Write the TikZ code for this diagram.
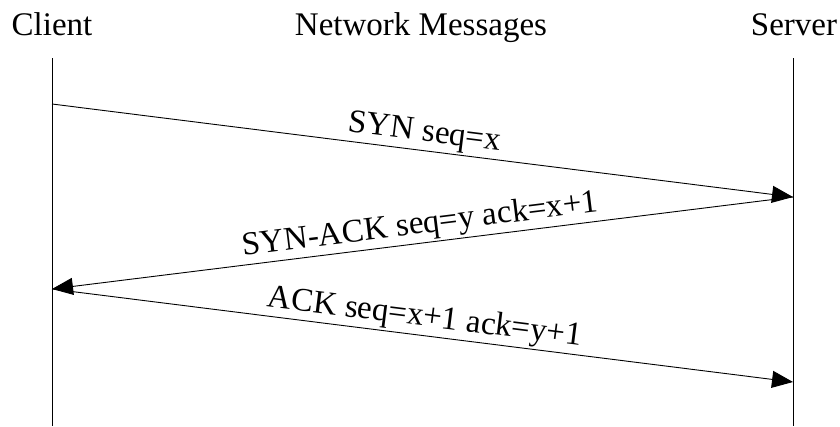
\documentclass[tikz,border=0pt]{standalone}
\usepackage{fontspec}
\setmainfont{Liberation Serif}
\usetikzlibrary{arrows.meta}
\begin{document}
\begin{tikzpicture}[x=1pt,y=-1pt,
  lifeline/.style={line width=0.9pt},
  msg/.style={line width=0.9pt,-{Triangle[length=21pt,width=17pt]}},
  msglabel/.style={midway,above,sloped,inner sep=2pt},
  title/.style={anchor=base,inner sep=0pt},
  every node/.style={font=\fontsize{33}{40}\selectfont}]
  \useasboundingbox (0,0) rectangle (840,426);
  % column headings
  \node[title] (client) at (52,35) {Client};
  \node[title] (net) at (421,35) {Network Messages};
  \node[title] (server) at (794,35) {Server};
  % lifelines
  \coordinate (ctop) at (52,58);
  \coordinate (cbot) at (52,426);
  \coordinate (stop) at (793,58);
  \coordinate (sbot) at (793,426);
  \draw[lifeline] (ctop) -- (cbot);
  \draw[lifeline] (stop) -- (sbot);
  % message end points
  \coordinate (c1) at (52,104);
  \coordinate (s1) at (793,197);
  \coordinate (c2) at (52,289);
  \coordinate (s2) at (793,382);
  % three-way handshake
  \draw[msg] (c1) -- node[msglabel] (syn) {SYN seq=x} (s1);
  \draw[msg] (s1) -- node[msglabel] (synack) {SYN-ACK seq=y ack=x+1} (c2);
  \draw[msg] (c2) -- node[msglabel] (ack) {ACK seq=x+1 ack=y+1} (s2);
\end{tikzpicture}
\end{document}
